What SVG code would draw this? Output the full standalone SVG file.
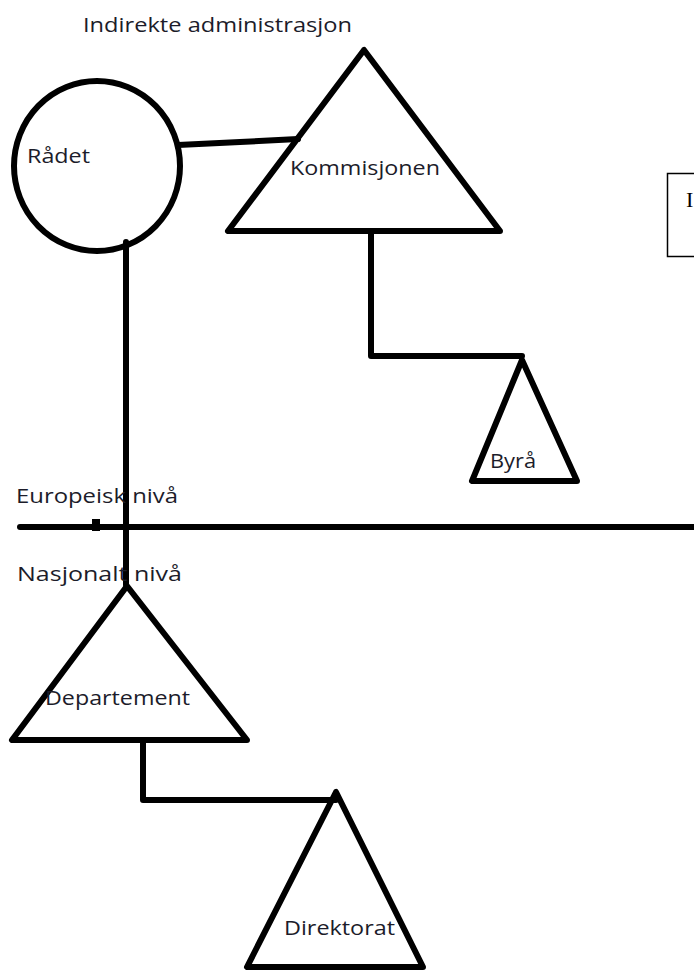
<svg xmlns="http://www.w3.org/2000/svg" width="694" height="970" viewBox="0 0 694 970">
<style>
.shape{fill:none;stroke:#000;stroke-width:6;stroke-linejoin:round;stroke-linecap:round}
.conn{fill:none;stroke:#000;stroke-width:6;stroke-linejoin:round;stroke-linecap:round}
.lbl{font-family:"Open Sans","Noto Sans",sans-serif;font-size:20.5px;fill:#1c1c2a}
</style>
<rect width="694" height="970" fill="#fff"/>
<g id="connectors">
<polyline class="conn" points="178,145 240,142 298,139"/>
<polyline class="conn" points="371,232 371,356 522,356"/>
<line class="conn" x1="126" y1="242" x2="126" y2="585"/>
<line class="conn" x1="20" y1="527" x2="700" y2="527"/>
<rect x="92" y="519" width="8" height="12" fill="#000"/>
<polyline class="conn" points="143,741 143,800 336,800"/>
</g>
<g id="title"><text class="lbl" x="83" y="32" textLength="269" lengthAdjust="spacingAndGlyphs">Indirekte administrasjon</text></g>
<g id="raadet">
<ellipse class="shape" cx="97" cy="166" rx="83" ry="85"/>
<text class="lbl" x="27" y="163" textLength="63" lengthAdjust="spacingAndGlyphs">Rådet</text>
</g>
<g id="kommisjonen">
<polygon class="shape" points="364,50 228,231 500,231"/>
<text class="lbl" x="290" y="175" textLength="150" lengthAdjust="spacingAndGlyphs">Kommisjonen</text>
</g>
<g id="byraa">
<polygon class="shape" points="522,360 472,481 577,481"/>
<text class="lbl" x="490" y="468" textLength="46" lengthAdjust="spacingAndGlyphs">Byrå</text>
</g>
<g id="levels">
<text class="lbl" x="16" y="503" textLength="162" lengthAdjust="spacingAndGlyphs">Europeisk nivå</text>
<text class="lbl" x="17" y="581" textLength="165" lengthAdjust="spacingAndGlyphs">Nasjonalt nivå</text>
</g>
<g id="departement">
<polygon class="shape" points="127,586 12,740 247,740"/>
<text class="lbl" x="45" y="705" textLength="145" lengthAdjust="spacingAndGlyphs">Departement</text>
</g>
<g id="direktorat">
<polygon class="shape" points="336,792 247,967 423,967"/>
<text class="lbl" x="284" y="935" textLength="111" lengthAdjust="spacingAndGlyphs">Direktorat</text>
</g>
<g id="box">
<rect x="667.5" y="173.5" width="40" height="83" fill="none" stroke="#000" stroke-width="1.5"/>
<text x="686" y="207" font-family="Liberation Serif,serif" font-size="22" fill="#000">I</text>
</g>
</svg>
